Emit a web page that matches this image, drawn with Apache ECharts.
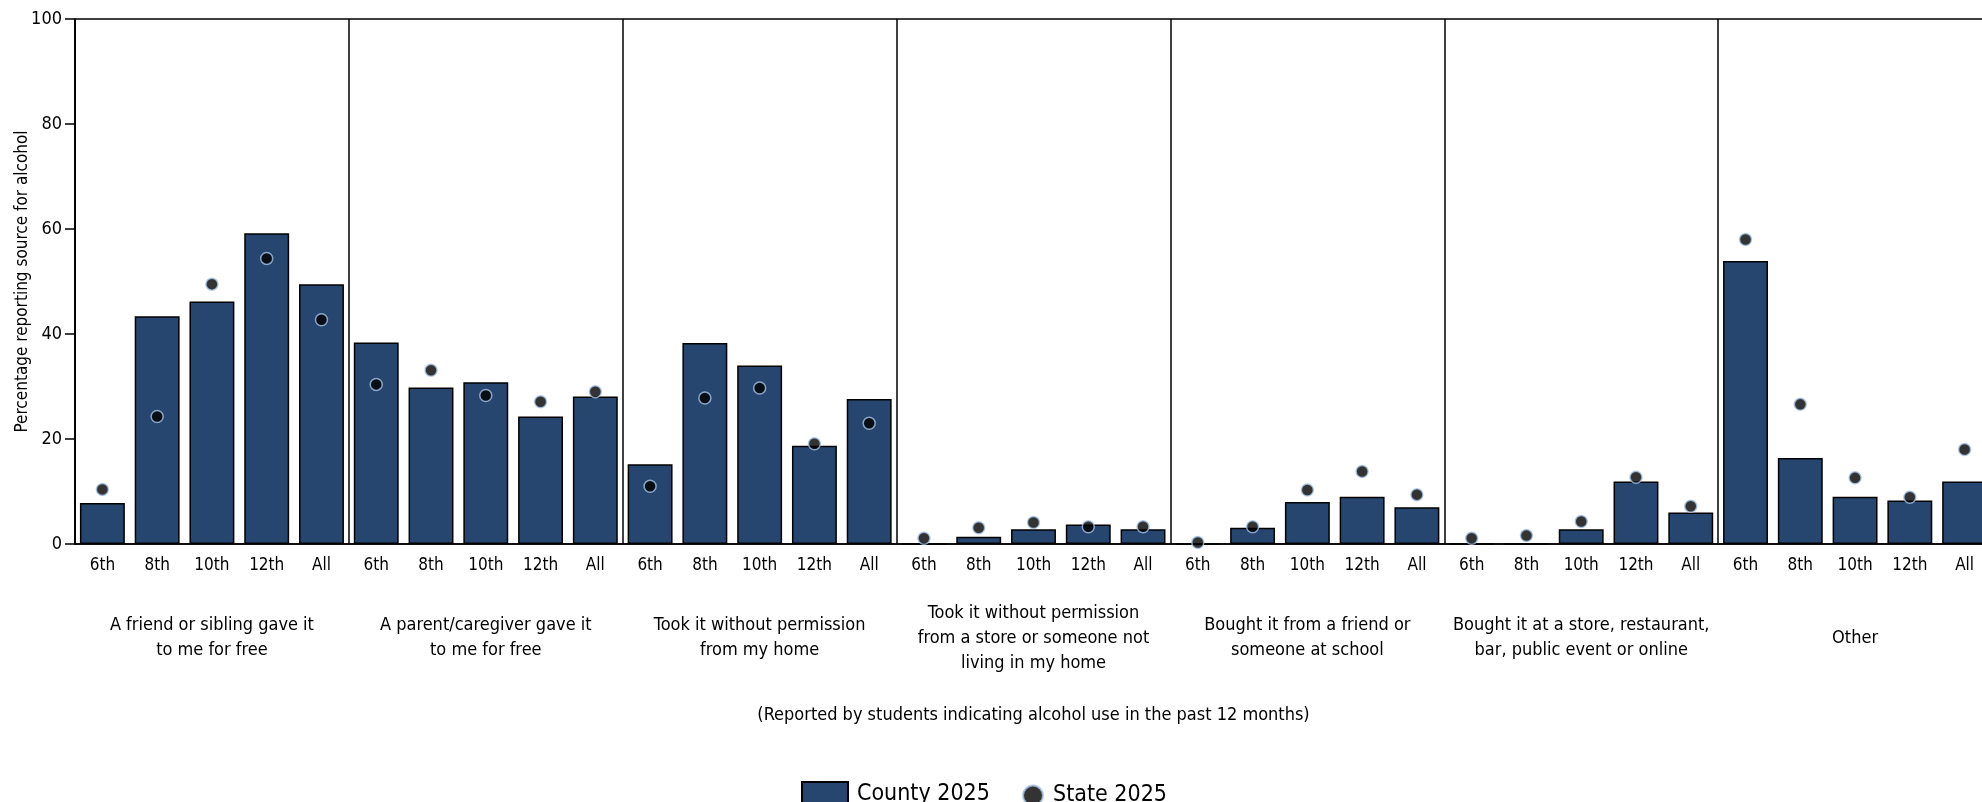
<!DOCTYPE html>
<html>
<head>
<meta charset="utf-8">
<script src="https://cdn.jsdelivr.net/npm/echarts@6/dist/echarts.min.js"></script>
<style>
    html, body {
        margin: 0;
        padding: 0;
        background: #fff;
    }
    #chart {
        width: 1982px;
        height: 802px;
    }
</style>
</head>
<body>
<div id="chart"></div>
<script>
// grades shown under every group
const grades = ['6th', '8th', '10th', '12th', 'All'];
const groups = [
    'A friend or sibling gave it\nto me for free',
    'A parent/caregiver gave it\nto me for free',
    'Took it without permission\nfrom my home',
    'Took it without permission\nfrom a store or someone not\nliving in my home',
    'Bought it from a friend or\nsomeone at school',
    'Bought it at a store, restaurant,\nbar, public event or online',
    'Other'
];
// County 2025 (bars), in group order, 5 grades each
const county = [
    7.8, 43.4, 46.2, 59.2, 49.5,
    38.4, 29.8, 30.8, 24.3, 28.1,
    15.2, 38.3, 34.0, 18.7, 27.6,
    0, 1.4, 2.8, 3.7, 2.8,
    0, 3.1, 8.0, 9.0, 7.0,
    0, 0, 2.8, 11.9, 6.0,
    53.9, 16.4, 9.0, 8.3, 11.9
];
// State 2025 (dots)
const state = [
    10.4, 24.3, 49.5, 54.4, 42.7,
    30.4, 33.1, 28.3, 27.1, 29.0,
    11.0, 27.8, 29.7, 19.1, 23.0,
    1.1, 3.1, 4.1, 3.3, 3.3,
    0.3, 3.3, 10.3, 13.8, 9.4,
    1.1, 1.6, 4.3, 12.7, 7.2,
    58.0, 26.6, 12.6, 8.9, 18.0
];
const yTicks = [0, 20, 40, 60, 80, 100];

const font = "'Liberation Sans Narrow', 'DejaVu Sans Condensed', sans-serif";
const barColor = '#264670';

// one category per grade inside each group
const cats = [];
groups.forEach(() => grades.forEach(g => cats.push(g)));

const chart = echarts.init(document.getElementById('chart'));
chart.setOption({
    animation: false,
    textStyle: { fontFamily: font, color: '#000' },
    grid: {
        left: 75,
        top: 19,
        right: -10,
        bottom: 258,
        outerBoundsMode: 'none',
        show: true,
        borderColor: '#000',
        borderWidth: 1.5
    },
    legend: [{
        data: ['County 2025'],
        icon: 'rect',
        left: 796,
        top: 776,
        itemWidth: 46,
        itemHeight: 25,
        textStyle: { fontSize: 23, fontFamily: font, color: '#000', padding: [0, 0, 0, 4] }
    }, {
        data: ['State 2025'],
        icon: 'circle',
        left: 1017,
        top: 779,
        itemWidth: 20,
        itemHeight: 20,
        textStyle: { fontSize: 23, fontFamily: font, color: '#000', padding: [0, 0, 0, 5] }
    }],
    xAxis: [{
        type: 'category',
        position: 'bottom',
        data: cats,
        axisLine: { lineStyle: { color: '#000', width: 1.5 } },
        axisTick: { interval: 0, length: 11, lineStyle: { color: '#000', width: 1.5 } },
        axisLabel: { interval: 0, margin: 13, fontSize: 17, color: '#000', fontFamily: font }
    }, {
        type: 'category',
        position: 'bottom',
        data: groups,
        axisLine: { show: false },
        axisTick: { show: false },
        splitLine: { show: true, interval: 0, lineStyle: { color: '#000', width: 1.5 } },
        axisLabel: {
            interval: 0, margin: 94, fontSize: 18, lineHeight: 25,
            verticalAlign: 'middle', color: '#000', fontFamily: font
        },
        name: '(Reported by students indicating alcohol use in the past 12 months)',
        nameLocation: 'middle',
        nameGap: 171,
        nameMoveOverlap: false,
        nameTextStyle: { fontSize: 18, color: '#000', fontFamily: font, verticalAlign: 'middle' }
    }],
    yAxis: {
        type: 'value',
        min: yTicks[0],
        max: yTicks[yTicks.length - 1],
        interval: 20,
        axisLine: { show: true, lineStyle: { color: '#000', width: 1.5 } },
        axisTick: { show: true, length: 10, lineStyle: { color: '#000', width: 1.5 } },
        splitLine: { show: false },
        axisLabel: { margin: 13, fontSize: 18, color: '#000', fontFamily: font },
        name: 'Percentage reporting source for alcohol',
        nameLocation: 'middle',
        nameGap: 52,
        nameMoveOverlap: false,
        nameTextStyle: { fontSize: 17, color: '#000', fontFamily: font, verticalAlign: 'middle' }
    },
    series: [{
        name: 'County 2025',
        type: 'bar',
        xAxisIndex: 0,
        data: county,
        barCategoryGap: '18%',
        itemStyle: { color: barColor, borderColor: '#000', borderWidth: 1.5 }
    }, {
        name: 'State 2025',
        type: 'scatter',
        xAxisIndex: 0,
        data: state.map((v, i) => [i, v]),
        symbol: 'circle',
        symbolSize: 12,
        itemStyle: { color: '#000', borderColor: '#a8c4e8', borderWidth: 1.5 },
        z: 5
    }]
});
</script>
</body>
</html>
